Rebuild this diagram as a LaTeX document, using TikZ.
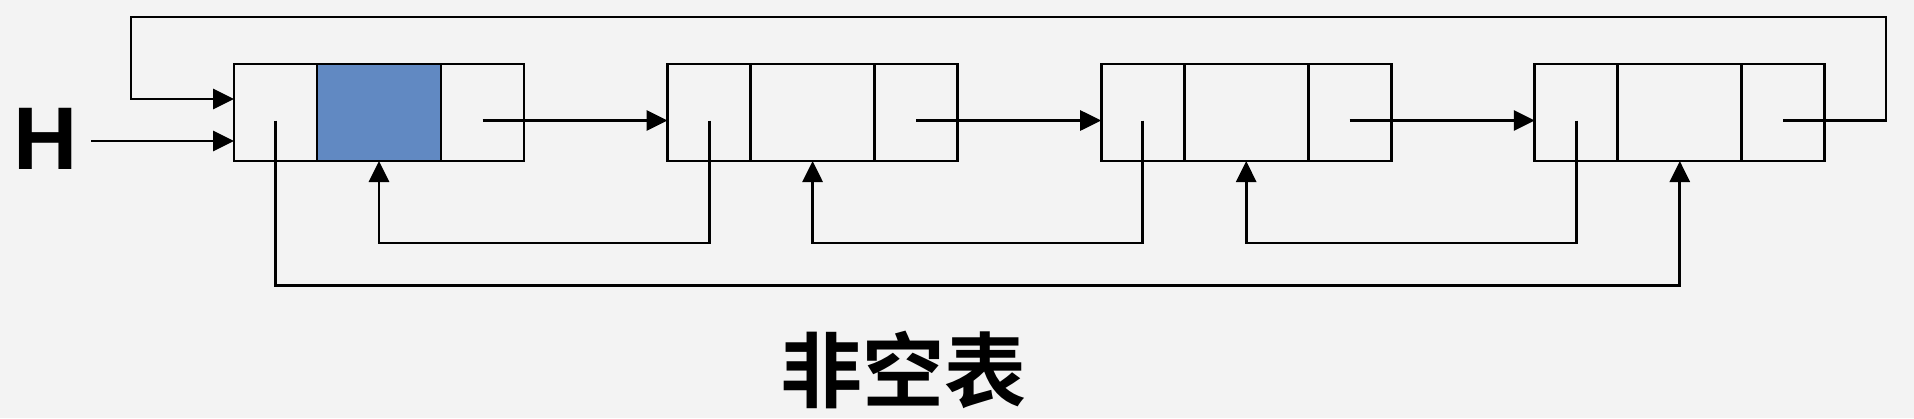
\documentclass[tikz,border=0pt]{standalone}
\usepackage{fontspec}
\setmainfont{Liberation Sans}
\newfontfamily\cjk[BoldFont={Noto Sans CJK SC Bold}]{Noto Sans CJK SC}
\usetikzlibrary{arrows.meta,calc}
\definecolor{bg}{HTML}{F3F3F3}
\definecolor{cellblue}{HTML}{6189C2}
\tikzset{
  cell/.style={draw=black, line width=2.8pt, minimum height=97pt, inner sep=0pt, outer sep=0pt, anchor=north west},
  arr/.style={draw=black, line width=2.8pt, -{Triangle[length=21pt,width=20pt]}},
  ln/.style={draw=black, line width=2.8pt}
}
\begin{document}
\begin{tikzpicture}[x=1pt,y=-1pt]
\fill[bg] (0,0) rectangle (1914,418);
\useasboundingbox (0,0) rectangle (1914,418);
\foreach \i/\f in {1/cellblue,2/none,3/none,4/none}{
  \pgfmathsetmacro\L{234+433.6*(\i-1)}
  \node[cell, minimum width=83pt] (a\i) at (\L,64) {};
  \node[cell, minimum width=124pt, fill=\f] (b\i) at (a\i.north east) {};
  \node[cell, minimum width=83pt] (c\i) at (b\i.north east) {};
}
% redraw borders of the blue cell on top
\draw[ln] (b1.north west) rectangle (b1.south east);
\node[font=\bfseries\fontsize{89}{89}\selectfont, inner sep=0pt] (H) at (46,139) {H};
\node[font=\cjk\bfseries\fontsize{82}{82}\selectfont, inner sep=0pt] (label) at (903,370) {非空表};
\coordinate (loopR) at (1886,17);
\coordinate (loopL) at (131,99);
% forward pointers
\draw[arr] ([yshift=-8pt]c1.center) -- ([yshift=-8pt]a2.west);
\draw[arr] ([yshift=-8pt]c2.center) -- ([yshift=-8pt]a3.west);
\draw[arr] ([yshift=-8pt]c3.center) -- ([yshift=-8pt]a4.west);
% backward pointers
\draw[arr] ([yshift=-8pt]a2.center) -- ++(0,122.5) -| (b1.south);
\draw[arr] ([yshift=-8pt]a3.center) -- ++(0,122.5) -| (b2.south);
\draw[arr] ([yshift=-8pt]a4.center) -- ++(0,122.5) -| (b3.south);
\draw[arr] ([yshift=-8pt]a1.center) -- ++(0,165) -| (b4.south);
% circular link
\draw[arr] ([yshift=-8pt]c4.center) -| (loopR) -| (loopL) -- ([yshift=13.5pt]a1.west);
% head pointer
\draw[arr] ([xshift=13pt,yshift=-2pt]H.east) -- ([yshift=-28.5pt]a1.west);
\end{tikzpicture}
\end{document}
